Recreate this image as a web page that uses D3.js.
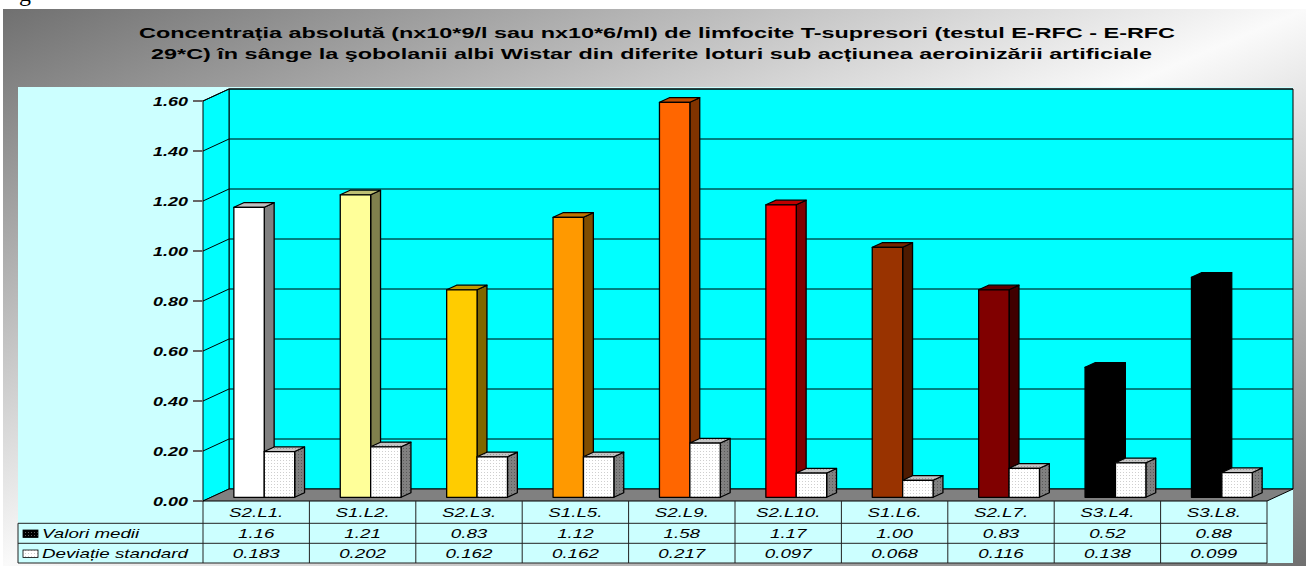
<!DOCTYPE html>
<html lang="ro">
<head>
<meta charset="utf-8">
<title>Limfocite T-supresori</title>
<script src="https://cdn.jsdelivr.net/npm/d3@7/dist/d3.min.js"></script>
<style>
  body { margin: 0; background: #fff; }
  text { font-family: "Liberation Sans", Arial, sans-serif; fill: #000; }
</style>
</head>
<body>
<script>
// date
var categories = ["S2.L1.", "S1.L2.", "S2.L3.", "S1.L5.", "S2.L9.", "S2.L10.", "S1.L6.", "S2.L7.", "S3.L4.", "S3.L8."];
var seriesNames = ["Valori medii", "Deviație standard"];
var valoriMedii = [1.16, 1.21, 0.83, 1.12, 1.58, 1.17, 1.00, 0.83, 0.52, 0.88];
var deviatieStandard = [0.183, 0.202, 0.162, 0.162, 0.217, 0.097, 0.068, 0.116, 0.138, 0.099];
var yTicks = [0, 0.2, 0.4, 0.6, 0.8, 1.0, 1.2, 1.4, 1.6];
var barColors = ["#ffffff", "#ffff99", "#ffcc00", "#ff9900", "#ff6600", "#ff0000", "#993300", "#800000", "#000000", "#000000"];
var titleLines = [
    "Concentrația absolută (nx10*9/l sau nx10*6/ml) de limfocite T-supresori (testul E-RFC - E-RFC",
    "29*C) în sânge la şobolanii albi Wistar din diferite loturi sub acțiunea aeroinizării artificiale"
];

var width = 1306, height = 566;
var sx = 1.5;           // imaginea originala e intinsa pe orizontala
var depthX = 26, depthY = 12;
var barF0 = 0.31, barF1 = 0.69;

var svg = d3.select("body").append("svg")
    .attr("width", width)
    .attr("height", height);

var defs = svg.append("defs");

var grad = defs.append("linearGradient")
    .attr("id", "frameGrad")
    .attr("x1", 0).attr("y1", 0).attr("x2", 1).attr("y2", 1);
grad.append("stop").attr("offset", 0).attr("stop-color", "#707070");
grad.append("stop").attr("offset", 0.5).attr("stop-color", "#fafafa");
grad.append("stop").attr("offset", 1).attr("stop-color", "#707070");

function dotPattern(id, bg, dot) {
    var p = defs.append("pattern")
        .attr("id", id)
        .attr("width", 3).attr("height", 3)
        .attr("patternUnits", "userSpaceOnUse");
    p.append("rect").attr("width", 3).attr("height", 3).attr("fill", bg);
    p.append("rect").attr("x", 1).attr("y", 1).attr("width", 1).attr("height", 1).attr("fill", dot);
}
dotPattern("dotFront", "#ffffff", "#cfcfcf");
dotPattern("dotTop", "#c4c4c4", "#9a9a9a");
dotPattern("dotSide", "#808080", "#5a5a5a");
dotPattern("dotDark", "#000000", "#606060");

// fundal
svg.append("rect")
    .attr("x", 3).attr("y", 9)
    .attr("width", width - 3).attr("height", height - 9)
    .attr("fill", "url(#frameGrad)");

svg.append("text")
    .attr("x", 19).attr("y", 1)
    .style("font-family", "'Liberation Serif', serif")
    .style("font-size", "24px")
    .text("g");

svg.append("rect")
    .attr("x", 18).attr("y", 87)
    .attr("width", 1275).attr("height", 476)
    .attr("fill", "#ccffff");

function stretchedText(x, y, str, size, weight, style, anchor) {
    return svg.append("text")
        .attr("transform", "translate(" + x + "," + y + ") scale(" + sx + ",1)")
        .attr("text-anchor", anchor || "middle")
        .style("font-size", size + "px")
        .style("font-weight", weight || "normal")
        .style("font-style", style || "normal")
        .text(str);
}

// titlu
svg.append("text")
    .attr("x", 657).attr("y", 38)
    .attr("text-anchor", "middle")
    .attr("textLength", 1036).attr("lengthAdjust", "spacingAndGlyphs")
    .style("font-size", "15px").style("font-weight", "bold")
    .text(titleLines[0]);
svg.append("text")
    .attr("x", 651.5).attr("y", 59)
    .attr("text-anchor", "middle")
    .attr("textLength", 1001).attr("lengthAdjust", "spacingAndGlyphs")
    .style("font-size", "15px").style("font-weight", "bold")
    .text(titleLines[1]);

// scale
var x = d3.scaleBand().domain(categories).range([203, 1267]);
var xs = d3.scaleBand().domain(seriesNames).range([0, x.bandwidth()])
    .paddingInner(0).paddingOuter(0.75);
var y = d3.scaleLinear().domain([0, 1.6]).range([501, 101]);

var x0 = x.range()[0], x1 = x.range()[1];
var yTop = y(1.6), yBot = y(0);

function pt(px, py, f) { return [px + depthX * f, py - depthY * f]; }
function poly(points) { return points.map(function (p) { return p.join(","); }).join(" "); }

// pereti
svg.append("polygon")
    .attr("points", poly([pt(x0, yTop, 1), pt(x1, yTop, 1), pt(x1, yBot, 1), pt(x0, yBot, 1)]))
    .attr("fill", "#00ffff").attr("stroke", "#000").attr("stroke-width", 1);
svg.append("polygon")
    .attr("points", poly([[x0, yTop], pt(x0, yTop, 1), pt(x0, yBot, 1), [x0, yBot]]))
    .attr("fill", "#00ffff").attr("stroke", "#000").attr("stroke-width", 1);

// grila
yTicks.filter(function (d) { return d > 0; }).forEach(function (t) {
    var a = pt(x0, y(t), 1), b = pt(x1, y(t), 1);
    svg.append("line")
        .attr("x1", x0).attr("y1", y(t)).attr("x2", a[0]).attr("y2", a[1])
        .attr("stroke", "#000").attr("stroke-width", 1);
    svg.append("line")
        .attr("x1", a[0]).attr("y1", a[1]).attr("x2", b[0]).attr("y2", b[1])
        .attr("stroke", "#000").attr("stroke-width", 1);
});

// podea
svg.append("polygon")
    .attr("points", poly([[x0, yBot], pt(x0, yBot, 1), pt(x1, yBot, 1), [x1, yBot]]))
    .attr("fill", "#808080").attr("stroke", "#000").attr("stroke-width", 1);

// axa y
yTicks.forEach(function (t) {
    svg.append("line")
        .attr("x1", x0 - 10).attr("y1", y(t)).attr("x2", x0).attr("y2", y(t))
        .attr("stroke", "#666").attr("stroke-width", 2);
    stretchedText(188, y(t) + 4.5, d3.format(".2f")(t), 12, "bold", "italic", "end");
});

// coloane 3D
function scaleColor(c, k) {
    var r = d3.rgb(c);
    return d3.rgb(r.r * k, r.g * k, r.b * k).formatHex();
}

function drawBar(bx, bw, v, front, side, top) {
    var yb = y(0), yt = y(v);
    var fl = pt(bx, yt, barF0), fr = pt(bx + bw, yt, barF0);
    var flb = pt(bx, yb, barF0), frb = pt(bx + bw, yb, barF0);
    var bl = pt(bx, yt, barF1), br = pt(bx + bw, yt, barF1), brb = pt(bx + bw, yb, barF1);
    var g = svg.append("g")
        .attr("stroke", "#000").attr("stroke-width", 1.3).attr("stroke-linejoin", "round");
    g.append("polygon").attr("points", poly([fr, br, brb, frb])).attr("fill", side);
    g.append("polygon").attr("points", poly([fl, bl, br, fr])).attr("fill", top);
    g.append("polygon").attr("points", poly([fl, fr, frb, flb])).attr("fill", front);
}

categories.forEach(function (c, i) {
    var col = barColors[i];
    drawBar(x(c) + xs(seriesNames[0]), xs.bandwidth(), valoriMedii[i],
        col, scaleColor(col, 0.5), scaleColor(col, 0.75));
    drawBar(x(c) + xs(seriesNames[1]), xs.bandwidth(), deviatieStandard[i],
        "url(#dotFront)", "url(#dotSide)", "url(#dotTop)");
});

// tabel de date
var rowY = [501, 523.3, 543.3, 563];
var lineColor = "#222";
[1, 2, 3].forEach(function (r) {
    svg.append("line")
        .attr("x1", 18).attr("y1", rowY[r]).attr("x2", x1).attr("y2", rowY[r])
        .attr("stroke", lineColor).attr("stroke-width", 1);
});
svg.append("line")
    .attr("x1", 18).attr("y1", rowY[1]).attr("x2", 18).attr("y2", rowY[3])
    .attr("stroke", lineColor).attr("stroke-width", 1);
categories.concat([null]).forEach(function (c) {
    var cx = c === null ? x1 : x(c);
    svg.append("line")
        .attr("x1", cx).attr("y1", rowY[0]).attr("x2", cx).attr("y2", rowY[3])
        .attr("stroke", lineColor).attr("stroke-width", 1);
});

categories.forEach(function (c, i) {
    var cx = x(c) + x.bandwidth() / 2;
    stretchedText(cx, 517, c, 12.5, "normal", "italic");
    stretchedText(cx, 537.5, d3.format(".2f")(valoriMedii[i]), 12.5, "normal", "italic");
    stretchedText(cx, 557.5, d3.format(".3f")(deviatieStandard[i]), 12.5, "normal", "italic");
});

// legenda
svg.append("rect")
    .attr("x", 23).attr("y", 530).attr("width", 15).attr("height", 7.5)
    .attr("fill", "url(#dotDark)").attr("stroke", "#000").attr("stroke-width", 0.8);
svg.append("rect")
    .attr("x", 23).attr("y", 550).attr("width", 15).attr("height", 7.5)
    .attr("fill", "url(#dotFront)").attr("stroke", "#000").attr("stroke-width", 0.8);
stretchedText(42, 537.5, seriesNames[0], 12.5, "normal", "italic", "start");
stretchedText(42, 557.5, seriesNames[1], 12.5, "normal", "italic", "start");
</script>
</body>
</html>
